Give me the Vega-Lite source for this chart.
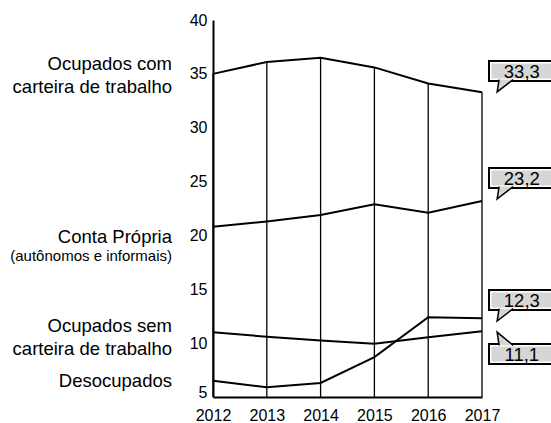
{
  "$schema": "https://vega.github.io/schema/vega-lite/v6.json",
  "width": 269,
  "height": 377,
  "autosize": {"type": "none"},
  "padding": {"left": 213, "top": 20, "right": 69, "bottom": 26},
  "background": "white",
  "config": {
    "view": {"stroke": null},
    "font": "Liberation Sans",
    "axis": {"labelFont": "Liberation Sans", "labelColor": "black", "labelFontSize": 16, "domainColor": "black", "domainWidth": 2, "ticks": false, "grid": false, "title": null}
  },
  "datasets": {
    "series": [
      {"series": "Ocupados com carteira de trabalho", "year": 2012, "value": 35.0},
      {"series": "Ocupados com carteira de trabalho", "year": 2013, "value": 36.1},
      {"series": "Ocupados com carteira de trabalho", "year": 2014, "value": 36.5},
      {"series": "Ocupados com carteira de trabalho", "year": 2015, "value": 35.6},
      {"series": "Ocupados com carteira de trabalho", "year": 2016, "value": 34.1},
      {"series": "Ocupados com carteira de trabalho", "year": 2017, "value": 33.3},
      {"series": "Conta Própria", "year": 2012, "value": 20.8},
      {"series": "Conta Própria", "year": 2013, "value": 21.3},
      {"series": "Conta Própria", "year": 2014, "value": 21.9},
      {"series": "Conta Própria", "year": 2015, "value": 22.9},
      {"series": "Conta Própria", "year": 2016, "value": 22.1},
      {"series": "Conta Própria", "year": 2017, "value": 23.2},
      {"series": "Ocupados sem carteira de trabalho", "year": 2012, "value": 11.0},
      {"series": "Ocupados sem carteira de trabalho", "year": 2013, "value": 10.6},
      {"series": "Ocupados sem carteira de trabalho", "year": 2014, "value": 10.25},
      {"series": "Ocupados sem carteira de trabalho", "year": 2015, "value": 9.95},
      {"series": "Ocupados sem carteira de trabalho", "year": 2016, "value": 10.55},
      {"series": "Ocupados sem carteira de trabalho", "year": 2017, "value": 11.1},
      {"series": "Desocupados", "year": 2012, "value": 6.5},
      {"series": "Desocupados", "year": 2013, "value": 5.9},
      {"series": "Desocupados", "year": 2014, "value": 6.3},
      {"series": "Desocupados", "year": 2015, "value": 8.7},
      {"series": "Desocupados", "year": 2016, "value": 12.4},
      {"series": "Desocupados", "year": 2017, "value": 12.3}
    ],
    "labels": [
      {"text": "Ocupados com\ncarteira de trabalho", "role": "name", "y": 35.92},
      {"text": "Conta Própria", "role": "name", "y": 19.85},
      {"text": "(autônomos e informais)", "role": "note", "y": 18.1},
      {"text": "Ocupados sem\ncarteira de trabalho", "role": "name", "y": 11.6},
      {"text": "Desocupados", "role": "name", "y": 6.49}
    ],
    "callouts": [
      {"label": "33,3", "pos": 35.27, "side": "above"},
      {"label": "23,2", "pos": 25.33, "side": "above"},
      {"label": "12,3", "pos": 14.0, "side": "above"},
      {"label": "11,1", "pos": 9.0, "side": "below"}
    ]
  },
  "layer": [
    {
      "data": {"name": "series"},
      "transform": [{"filter": "datum.series === 'Ocupados com carteira de trabalho'"}],
      "mark": {"type": "rule", "color": "black", "strokeWidth": 1.3},
      "encoding": {
        "x": {"field": "year", "type": "quantitative"},
        "y": {"field": "value", "type": "quantitative"},
        "y2": {"datum": 5}
      }
    },
    {
      "data": {"name": "series"},
      "mark": {"type": "line", "color": "black", "strokeWidth": 2},
      "encoding": {
        "x": {"field": "year", "type": "quantitative", "scale": {"domain": [2012, 2017], "nice": false, "zero": false},
              "axis": {"values": [2012, 2013, 2014, 2015, 2016, 2017], "format": "d", "labelPadding": 10, "labelFlush": false}},
        "y": {"field": "value", "type": "quantitative", "scale": {"domain": [5, 40], "nice": false, "zero": false},
              "axis": {"values": [5, 10, 15, 20, 25, 30, 35, 40], "labelPadding": 6, "labelFlush": false,
                       "labelBaseline": {"condition": {"test": "datum.value === 5", "value": "alphabetic"}, "value": "middle"}}},
        "detail": {"field": "series"}
      }
    },
    {
      "data": {"name": "labels"},
      "transform": [{"filter": "datum.role === 'name'"}],
      "mark": {"type": "text", "align": "right", "baseline": "middle", "fontSize": 18.5, "lineBreak": "\n", "lineHeight": 23, "dx": -41, "color": "black"},
      "encoding": {
        "x": {"datum": 2012},
        "y": {"field": "y", "type": "quantitative"},
        "text": {"field": "text"}
      }
    },
    {
      "data": {"name": "labels"},
      "transform": [{"filter": "datum.role === 'note'"}],
      "mark": {"type": "text", "align": "right", "baseline": "middle", "fontSize": 15, "dx": -41, "color": "black"},
      "encoding": {
        "x": {"datum": 2012},
        "y": {"field": "y", "type": "quantitative"},
        "text": {"field": "text"}
      }
    },
    {
      "data": {"name": "callouts"},
      "mark": {"type": "rect", "fill": "white", "stroke": "black", "strokeWidth": 2, "yOffset": -10, "y2Offset": 10},
      "encoding": {
        "x": {"datum": 2017.13},
        "x2": {"datum": 2018.6},
        "y": {"field": "pos", "type": "quantitative"},
        "y2": {"field": "pos"}
      }
    },
    {
      "data": {"name": "callouts"},
      "mark": {"type": "rect", "fill": "#d6d6d6", "xOffset": 2.5, "yOffset": -7.5, "y2Offset": 7.5},
      "encoding": {
        "x": {"datum": 2017.13},
        "x2": {"datum": 2018.6},
        "y": {"field": "pos", "type": "quantitative"},
        "y2": {"field": "pos"}
      }
    },
    {
      "data": {"name": "callouts"},
      "transform": [{"filter": "datum.side === 'above'"}],
      "mark": {"type": "point", "filled": true, "fill": "#d6d6d6", "fillOpacity": 1, "stroke": "black", "strokeWidth": 1.5, "strokeOpacity": 1, "size": 256, "yOffset": 15,
               "shape": "M -0.75,-0.8 L -1,0.75 L 1,-0.8"},
      "encoding": {
        "x": {"datum": 2017.43},
        "y": {"field": "pos", "type": "quantitative"}
      }
    },
    {
      "data": {"name": "callouts"},
      "transform": [{"filter": "datum.side === 'below'"}],
      "mark": {"type": "point", "filled": true, "fill": "#d6d6d6", "fillOpacity": 1, "stroke": "black", "strokeWidth": 1.5, "strokeOpacity": 1, "size": 256, "yOffset": -15,
               "shape": "M -0.75,0.8 L -1,-0.85 L 1,0.8"},
      "encoding": {
        "x": {"datum": 2017.43},
        "y": {"field": "pos", "type": "quantitative"}
      }
    },
    {
      "data": {"name": "callouts"},
      "mark": {"type": "text", "align": "center", "baseline": "middle", "fontSize": 18.5, "color": "black", "dy": 1},
      "encoding": {
        "x": {"datum": 2017.74},
        "y": {"field": "pos", "type": "quantitative"},
        "text": {"field": "label"}
      }
    }
  ]
}
